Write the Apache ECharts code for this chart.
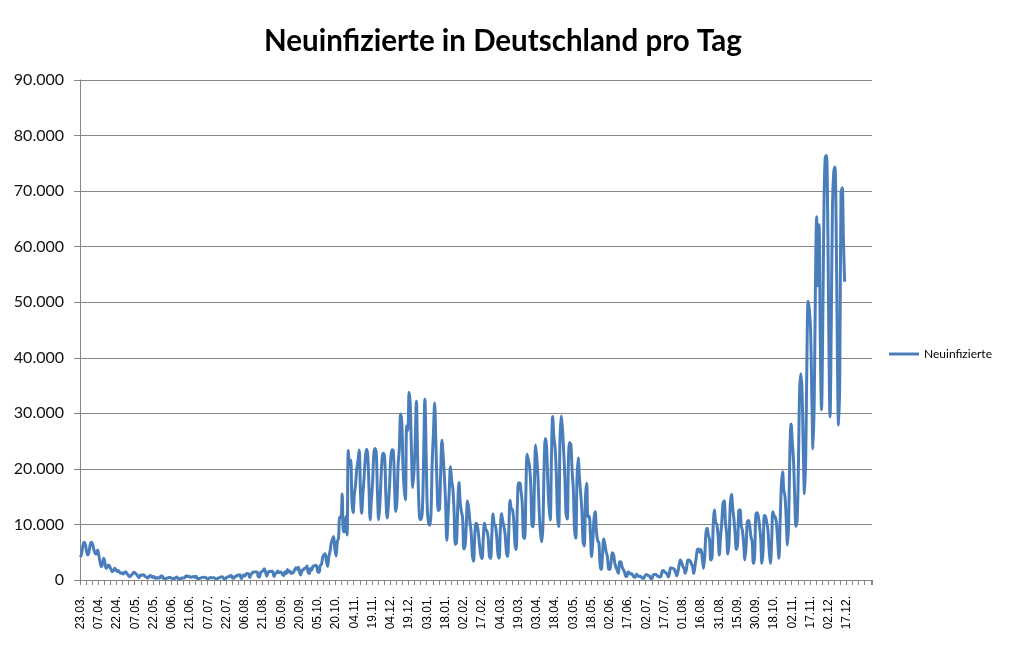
<!DOCTYPE html>
<html>
<head>
<meta charset="utf-8">
<script src="https://cdn.jsdelivr.net/npm/echarts@6/dist/echarts.min.js"></script>
<style>
html,body{margin:0;padding:0;background:#ffffff;}
#chart{width:1014px;height:660px;}
</style>
</head>
<body>
<div id="chart"></div>
<script>
// Daily new infections, one value per day (first value: 23.03.2020, last: 11.12.2021)
const mar2020 = [4100, 5000, 6300, 6800, 6300, 5000, 4500, 5200, 6400];
const apr2020 = [6800, 6300, 5400, 4800, 4700, 5400, 4400, 3200, 2400, 2900, 3900, 3100, 2100, 2300, 2700,
                 2400, 1900, 1500, 1700, 2100, 1900, 1500, 1700, 1400, 1200, 1300, 1100, 1300, 1500, 1200];
const may2020 = [900, 600, 700, 950, 1200, 1400, 1200, 1000, 700, 400, 900, 800, 930, 910, 620, 580,
                 340, 510, 800, 750, 460, 640, 430, 290, 430, 360, 350, 740, 740, 290, 330];
const jun2020 = [210, 340, 390, 510, 410, 300, 210, 350, 320, 560, 300, 250, 190, 380, 350,
                 350, 580, 770, 600, 690, 540, 500, 590, 630, 480, 690, 260, 260, 300, 400];
const jul2020 = [470, 500, 450, 420, 240, 220, 400, 440, 380, 400, 380, 250, 160, 350, 410, 530,
                 580, 500, 200, 250, 450, 570, 570, 820, 780, 310, 340, 630, 680, 900, 870];
const aug2020 = [960, 240, 510, 880, 740, 1050, 1150, 1120, 440, 970, 1230, 1450, 1450, 1420, 1450, 630,
                 560, 1390, 1510, 1710, 2030, 1430, 710, 1280, 1580, 1510, 1570, 1480, 610, 1220, 1260];
const sep2020 = [1620, 1310, 1450, 1380, 990, 810, 1500, 1180, 1890, 1480, 1630, 1180, 1260, 1410, 1900,
                 2190, 1920, 2300, 1350, 920, 1820, 1770, 2140, 2150, 2510, 1410, 1190, 2090, 1800, 2500];
const oct2020 = [2503, 2673, 2563, 1411, 1382, 2639, 2828, 4058, 4516, 4721, 3483, 2467, 4122, 5132, 6638, 7334,
                 7830, 5587, 4325, 6868, 7595, 11287, 11242, 15500, 8685, 8685, 11409, 8100, 23300, 20500, 21600];
const nov2020 = [14177, 12097, 15352, 17214, 19990, 21506, 23399, 16017, 12000, 15332, 18487, 21866, 23542, 22461, 16947,
                 10824, 14419, 17561, 22609, 23648, 22964, 15741, 10864, 13554, 18633, 22268, 22806, 21695, 14611, 11169];
const dec2020 = [13604, 17270, 22046, 23449, 23318, 17767, 12332, 14054, 20815, 23679, 29875, 28438, 20200, 16362, 14432, 27728,
                 26923, 33777, 31300, 22771, 16643, 19528, 24740, 32195, 22000, 14000, 10900, 10900, 12892, 22459, 32552];
const jan2021 = [22924, 12690, 10315, 9847, 11897, 21237, 26391, 31849, 24694, 16946, 12497, 12802, 19600, 25164, 22368, 18678,
                 13882, 7141, 11369, 15974, 20398, 17862, 16417, 12257, 6408, 6729, 13202, 17553, 14022, 12321, 11192];
const feb2021 = [5600, 6114, 9705, 14211, 12908, 10485, 8616, 4535, 3379, 8072, 10237, 9860, 8354, 6114,
                 4426, 3856, 7556, 10207, 9113, 8778, 7676, 4369, 3883, 8007, 11869, 9997, 9762, 7890];
const mar2021 = [4732, 3943, 9019, 11912, 10580, 9557, 8103, 5011, 4252, 9146, 14356, 12834, 12674, 10790, 6604, 5480,
                 13435, 17504, 17482, 16033, 13733, 7709, 7485, 15813, 22657, 21573, 20472, 17176, 9872, 9549, 17051];
const apr2021 = [24300, 21888, 18129, 12196, 8497, 6885, 9677, 20407, 25464, 24097, 17855, 13245, 10810, 21693, 29426,
                 25831, 23804, 19185, 11437, 9609, 24884, 29518, 27543, 23392, 18773, 11907, 10976, 21521, 24736, 24329];
const may2021 = [19688, 16290, 9160, 7534, 18034, 21953, 18485, 15685, 12656, 6922, 6125, 14909, 17419, 11336, 11476, 8500,
                 4209, 6922, 11040, 12298, 8769, 7082, 6714, 2682, 1911, 4640, 7380, 6313, 5034, 4209, 1978];
const jun2021 = [1900, 3200, 4900, 4600, 3200, 2300, 1800, 1200, 3250, 3300, 2440, 1910, 1490, 700, 650,
                 1450, 1330, 1080, 1110, 840, 480, 590, 1020, 770, 640, 690, 540, 300, 340, 810];
const jul2021 = [1010, 890, 750, 650, 210, 400, 990, 970, 1010, 750, 650, 550, 650, 1550, 1700, 1460,
                 1300, 1080, 550, 1180, 2200, 2100, 2090, 1920, 1390, 750, 1550, 2770, 3600, 3140, 2450];
const aug2021 = [2100, 1200, 2000, 3540, 3600, 3450, 2920, 2480, 1180, 2500, 4010, 5500, 5580, 5000, 5500, 3900,
                 2100, 4200, 8400, 9300, 8090, 7190, 3600, 4040, 9880, 12600, 10300, 10020, 7880, 4500, 7740];
const sep2021 = [10300, 13720, 14250, 10450, 8420, 4660, 6730, 13570, 15430, 12970, 11020, 8250, 5510, 6330, 12460,
                 12640, 9750, 8900, 6730, 3620, 6040, 10450, 10700, 9730, 7770, 6890, 3000, 4170, 11780, 12100];
const oct2021 = [11500, 9700, 7600, 3000, 5300, 11600, 11400, 10300, 8900, 5300, 3000, 6800, 12300, 11600, 11300, 10200,
                 7000, 3900, 10600, 17100, 19500, 16200, 15000, 10900, 6300, 10500, 23200, 28100, 24700, 21500, 14700];
const nov2021 = [9658, 10813, 20398, 33949, 37120, 34002, 23543, 15513, 21832, 39676, 50196, 48640, 45081, 33498, 23607,
                 32048, 52826, 65371, 52970, 63924, 42727, 30643, 45326, 66884, 75961, 76414, 67125, 44401, 29364, 45753];
const dec2021 = [67186, 73209, 74352, 64510, 42055, 27836, 36059, 69601, 70611, 61288, 53697];

const values = [].concat(mar2020, apr2020, may2020, jun2020, jul2020, aug2020, sep2020, oct2020, nov2020, dec2020,
  jan2021, feb2021, mar2021, apr2021, may2021, jun2021, jul2021, aug2021, sep2021, oct2021, nov2021, dec2021);

// Tick labels shown every 15 categories
const tickLabels = ['23.03.', '07.04.', '22.04.', '07.05.', '22.05.', '06.06.', '21.06.', '07.07.', '22.07.', '06.08.',
  '21.08.', '05.09.', '20.09.', '05.10.', '20.10.', '04.11.', '19.11.', '04.12.', '19.12.', '03.01.', '18.01.', '02.02.',
  '17.02.', '04.03.', '19.03.', '03.04.', '18.04.', '03.05.', '18.05.', '02.06.', '17.06.', '02.07.', '17.07.', '01.08.',
  '16.08.', '31.08.', '15.09.', '30.09.', '18.10.', '02.11.', '17.11.', '02.12.', '17.12.'];

const categoryCount = 651;
const labelStep = 15;
const lastLabelIndex = (tickLabels.length - 1) * labelStep;

// Category dates (the date column of the source skips one day in summer 2020 and three in October 2021)
const categories = [];
(function () {
  const start = new Date(2020, 2, 23);
  for (let i = 0; i < categoryCount; i++) {
    const off = i + (i >= 100 ? 1 : 0) + (i >= 560 ? 3 : 0);
    const d = new Date(start.getFullYear(), start.getMonth(), start.getDate() + off);
    const dd = String(d.getDate()).padStart(2, '0');
    const mm = String(d.getMonth() + 1).padStart(2, '0');
    categories.push(dd + '.' + mm + '.' + (i % labelStep === 0 && i <= lastLabelIndex ? '' : String(d.getFullYear()).slice(2)));
  }
  for (let k = 0; k < tickLabels.length; k++) categories[k * labelStep] = tickLabels[k];
})();

function fmtThousands(v) {
  if (v === 0) return '0';
  const s = String(Math.round(v));
  return s.replace(/\B(?=(\d{3})+(?!\d))/g, '.');
}

const chart = echarts.init(document.getElementById('chart'), null, { renderer: 'canvas' });
chart.setOption({
  animation: false,
  backgroundColor: '#ffffff',
  title: {
    text: 'Neuinfizierte in Deutschland pro Tag',
    left: 264,
    top: 26,
    padding: 0,
    textStyle: { fontFamily: 'Lato', fontWeight: 'bold', fontSize: 29.5, color: '#000000' }
  },
  legend: {
    data: ['Neuinfizierte'],
    left: 889,
    top: 348,
    padding: 0,
    itemWidth: 30,
    itemHeight: 3,
    icon: 'rect',
    textStyle: { fontFamily: 'Lato', fontSize: 12, color: '#000000' }
  },
  grid: { left: 80, right: 142, top: 80, bottom: 80, containLabel: false },
  xAxis: {
    type: 'category',
    data: categories,
    boundaryGap: true,
    axisLine: { show: true, lineStyle: { color: '#868686', width: 1 } },
    axisTick: { show: true, interval: 4, length: 5, lineStyle: { color: '#868686', width: 1 } },
    axisLabel: {
      interval: labelStep - 1,
      rotate: 90,
      margin: 16,
      fontFamily: 'Liberation Sans',
      fontSize: 12,
      color: '#000000',
      formatter: function (v, i) { return i <= lastLabelIndex ? v : ''; }
    },
    splitLine: { show: false }
  },
  yAxis: {
    type: 'value',
    min: 0,
    max: 90000,
    interval: 10000,
    axisLine: { show: true, lineStyle: { color: '#868686', width: 1 } },
    axisTick: { show: true, length: 6, lineStyle: { color: '#868686', width: 1 } },
    axisLabel: { margin: 16, fontFamily: 'Lato', fontSize: 16, color: '#111111', formatter: fmtThousands },
    splitLine: { show: true, lineStyle: { color: '#868686', width: 1 } }
  },
  series: [{
    name: 'Neuinfizierte',
    type: 'line',
    data: values,
    showSymbol: false,
    symbol: 'none',
    smooth: 0.35,
    lineStyle: { color: '#4A7EBB', width: 3 },
    itemStyle: { color: '#4A7EBB' }
  }]
});
</script>
</body>
</html>
